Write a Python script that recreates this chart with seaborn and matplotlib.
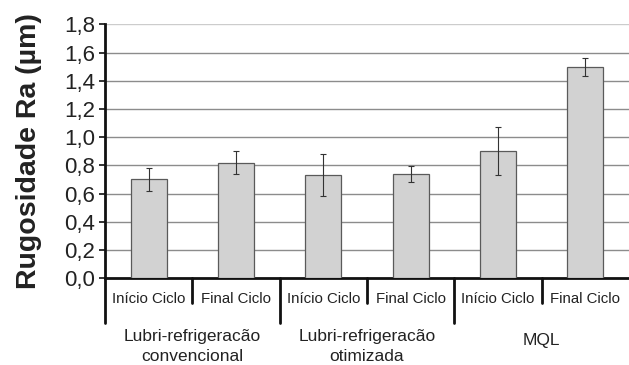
import matplotlib
matplotlib.use("Agg")
import matplotlib.pyplot as plt
import matplotlib.transforms as mtransforms
import seaborn as sns
import pandas as pd

# Surface roughness at start / end of cycle for three cooling strategies
stages = ["Início Ciclo", "Final Ciclo", "Início Ciclo", "Final Ciclo", "Início Ciclo", "Final Ciclo"]
groups = ["Lubri-refrigeracão\nconvencional", "Lubri-refrigeracão\notimizada", "MQL"]
ra_mean = [0.70, 0.82, 0.73, 0.74, 0.90, 1.50]
ra_err = [0.08, 0.08, 0.15, 0.055, 0.17, 0.065]
yticks = [0.0, 0.2, 0.4, 0.6, 0.8, 1.0, 1.2, 1.4, 1.6, 1.8]

slot_ids = [f"s{i}" for i in range(len(ra_mean))]
df = pd.DataFrame({"slot": slot_ids, "ra": ra_mean})

sns.set_theme(style="white")
plt.rcParams["font.family"] = ["Liberation Sans", "DejaVu Sans"]

fig = plt.figure(figsize=(6.29, 3.65), dpi=100)
ax = fig.add_axes([0.167, 0.238, 0.833, 0.695])

sns.barplot(data=df, x="slot", y="ra", order=slot_ids, color="#d2d2d2",
            saturation=1, width=0.41, edgecolor="#5a5a5a", linewidth=0.9,
            errorbar=None, ax=ax, zorder=3)
ax.errorbar(range(len(ra_mean)), ra_mean, yerr=ra_err, fmt="none",
            ecolor="#333333", elinewidth=0.8, capsize=2, capthick=0.8, zorder=4)

ax.set_xlim(-0.5, 5.5)
ax.set_ylim(0, 1.8)
ax.set_yticks(yticks)
ax.set_yticklabels([f"{v:.1f}".replace(".", ",") for v in yticks], fontsize=16, color="#222222")
for v in yticks[1:]:
    ax.axhline(v, color="#cccccc" if v == 1.8 else "#8c8c8c", lw=1.0, zorder=1)

for s in ["top", "right"]:
    ax.spines[s].set_visible(False)
ax.spines["left"].set_color("#111111")
ax.spines["left"].set_linewidth(2)
ax.spines["bottom"].set_color("#111111")
ax.spines["bottom"].set_linewidth(2)
ax.tick_params(axis="y", left=True, length=4, width=1.2, color="#111111", pad=3)
ax.tick_params(axis="x", bottom=False, pad=4)
ax.set_xticks(range(len(stages)))
ax.set_xticklabels(stages, fontsize=10.8, color="#222222")
ax.set_xlabel("")
ax.set_ylabel("Rugosidade Ra (µm)", fontsize=20.5, fontweight="bold", color="#222222", labelpad=16)

# Hierarchical category dividers below the axis
trans = mtransforms.blended_transform_factory(ax.transData, ax.transAxes)
for xb in [0.5, 2.5, 4.5]:
    ax.plot([xb, xb], [0, -0.098], transform=trans, color="#111111", lw=2, clip_on=False)
for xb in [-0.5, 1.5, 3.5]:
    ax.plot([xb, xb], [0, -0.177], transform=trans, color="#111111", lw=2, clip_on=False)

for i, g in enumerate(groups):
    y = -0.27 if "\n" in g else -0.245
    ax.text(2 * i + 0.5, y, g, transform=trans, ha="center", va="center",
            fontsize=12.5, color="#222222", linespacing=1.4)

fig.savefig("out.png", dpi=100)
